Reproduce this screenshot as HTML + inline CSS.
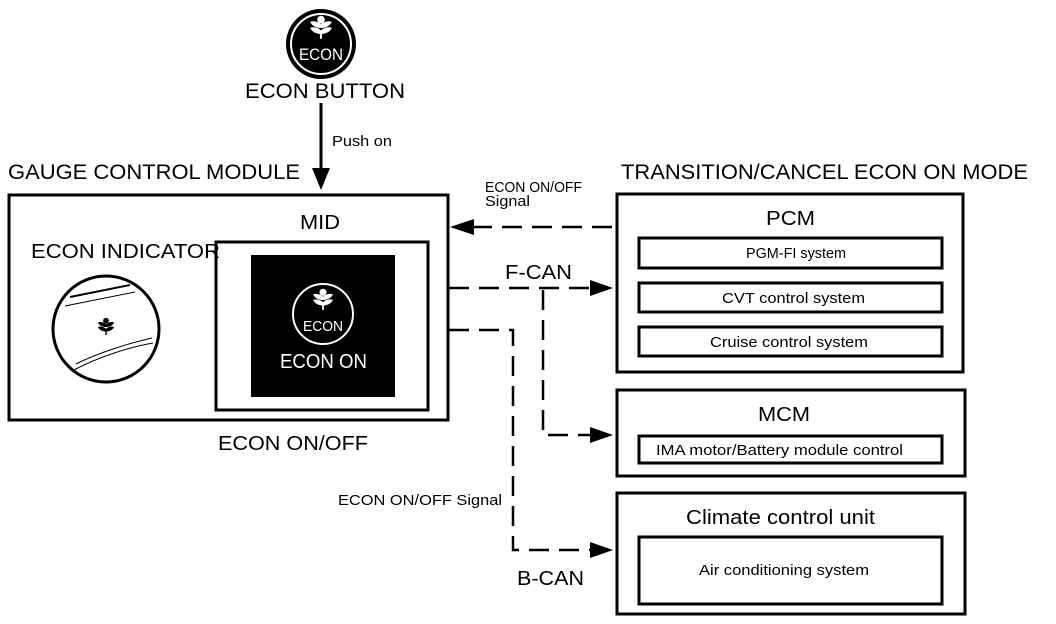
<!DOCTYPE html>
<html><head><meta charset="utf-8"><style>
html,body{margin:0;padding:0;background:#fff;}
svg{display:block;font-family:"Liberation Sans",Arial,sans-serif;}
</style></head><body>
<svg width="1056" height="624" viewBox="0 0 1056 624" xmlns="http://www.w3.org/2000/svg">
<defs>
<g id="leaf">
<circle cx="0" cy="-7" r="3.2"/>
<path d="M0,-3 C-3,-6 -8,-6 -9,-5 C-7,-1 -3,0 0,0 C3,0 7,-1 9,-5 C8,-6 3,-6 0,-3Z"/>
<path d="M0,2 C-3,-1 -8,-1 -9,0 C-7,4 -3,5 0,5 C3,5 7,4 9,0 C8,-1 3,-1 0,2Z"/>
<rect x="-0.8" y="3" width="1.6" height="6"/>
</g>
</defs>
<g lengthAdjust="spacingAndGlyphs">
<!-- ECON button -->
<circle cx="321" cy="44" r="35" fill="#000"/>
<circle cx="321" cy="44" r="30" fill="none" stroke="#fff" stroke-width="2"/>
<g fill="#fff" transform="translate(321,28) scale(1.2)"><use href="#leaf"/></g>
<text x="321" y="60" font-size="17" fill="#fff" text-anchor="middle" textLength="44" lengthAdjust="spacingAndGlyphs">ECON</text>
<text x="245" y="98" font-size="21" textLength="160" lengthAdjust="spacingAndGlyphs">ECON BUTTON</text>
<line x1="321" y1="103" x2="321" y2="172" stroke="#000" stroke-width="3"/>
<polygon points="312,168 330,168 321,190" fill="#000"/>
<text x="332" y="146" font-size="15" textLength="60" lengthAdjust="spacingAndGlyphs">Push on</text>
<text x="8" y="179" font-size="21" textLength="292" lengthAdjust="spacingAndGlyphs">GAUGE CONTROL MODULE</text>
<!-- GCM -->
<rect x="9" y="195" width="439" height="225" fill="none" stroke="#000" stroke-width="3"/>
<text x="300" y="229" font-size="20" textLength="40" lengthAdjust="spacingAndGlyphs">MID</text>
<text x="31" y="258" font-size="20" textLength="189" lengthAdjust="spacingAndGlyphs">ECON INDICATOR</text>
<rect x="216" y="242" width="212" height="168" fill="none" stroke="#000" stroke-width="3"/>
<rect x="251" y="255" width="144" height="142" fill="#000"/>
<circle cx="323" cy="314" r="30" fill="none" stroke="#fff" stroke-width="2"/>
<g fill="#fff" transform="translate(323,300) scale(1.1)"><use href="#leaf"/></g>
<text x="323" y="331" font-size="15" fill="#fff" text-anchor="middle" textLength="40" lengthAdjust="spacingAndGlyphs">ECON</text>
<text x="280" y="368" font-size="20" fill="#fff" textLength="87" lengthAdjust="spacingAndGlyphs">ECON ON</text>
<!-- indicator -->
<circle cx="106" cy="329" r="53" fill="#fff" stroke="#000" stroke-width="3"/>
<path d="M70,297 L130,285" stroke="#000" stroke-width="2"/>
<path d="M65,306 L135,292" stroke="#000" stroke-width="1"/>
<path d="M76,364 C100,352 130,343 152,338" stroke="#000" stroke-width="1" fill="none"/>
<path d="M74,370 C98,357 130,347 153,343" stroke="#000" stroke-width="1" fill="none"/>
<g fill="#000" transform="translate(106,327) scale(0.9)"><use href="#leaf"/></g>
<text x="218" y="450" font-size="20" textLength="150" lengthAdjust="spacingAndGlyphs">ECON ON/OFF</text>
<!-- right -->
<text x="621" y="179" font-size="21" textLength="407" lengthAdjust="spacingAndGlyphs">TRANSITION/CANCEL ECON ON MODE</text>
<rect x="617" y="194" width="346" height="178" fill="none" stroke="#000" stroke-width="3"/>
<text x="766" y="225" font-size="20" textLength="49" lengthAdjust="spacingAndGlyphs">PCM</text>
<rect x="639" y="238" width="303" height="30" fill="none" stroke="#000" stroke-width="3"/>
<text x="746" y="258" font-size="15" textLength="100" lengthAdjust="spacingAndGlyphs">PGM-FI system</text>
<rect x="639" y="283" width="303" height="29" fill="none" stroke="#000" stroke-width="3"/>
<text x="722" y="303" font-size="15" textLength="143" lengthAdjust="spacingAndGlyphs">CVT control system</text>
<rect x="639" y="327" width="303" height="29" fill="none" stroke="#000" stroke-width="3"/>
<text x="710" y="347" font-size="15" textLength="158" lengthAdjust="spacingAndGlyphs">Cruise control system</text>
<rect x="617" y="390" width="348" height="86" fill="none" stroke="#000" stroke-width="3"/>
<text x="758" y="421" font-size="20" textLength="52" lengthAdjust="spacingAndGlyphs">MCM</text>
<rect x="639" y="436" width="303" height="27" fill="none" stroke="#000" stroke-width="3"/>
<text x="656" y="455" font-size="15" textLength="247" lengthAdjust="spacingAndGlyphs">IMA motor/Battery module control</text>
<rect x="617" y="493" width="348" height="121" fill="none" stroke="#000" stroke-width="3"/>
<text x="686" y="524" font-size="20" textLength="189" lengthAdjust="spacingAndGlyphs">Climate control unit</text>
<rect x="639" y="537" width="303" height="67" fill="none" stroke="#000" stroke-width="3"/>
<text x="699" y="575" font-size="15" textLength="170" lengthAdjust="spacingAndGlyphs">Air conditioning system</text>
<!-- connectors -->
<g stroke="#000" stroke-width="2.5" fill="none" stroke-dasharray="20,10">
<line x1="612" y1="227" x2="472" y2="227"/>
<line x1="449" y1="288" x2="595" y2="288"/>
<polyline points="543,290 543,435 595,435"/>
<polyline points="449,330 513,330 513,550 595,550"/>
</g>
<polygon points="450,227 474,219 474,235" fill="#000"/>
<polygon points="613,288 590,280 590,296" fill="#000"/>
<polygon points="613,435 590,427 590,443" fill="#000"/>
<polygon points="613,550 590,542 590,558" fill="#000"/>
<text x="485" y="192" font-size="15" textLength="97" lengthAdjust="spacingAndGlyphs">ECON ON/OFF</text>
<text x="485" y="206" font-size="15" textLength="45" lengthAdjust="spacingAndGlyphs">Signal</text>
<text x="505" y="279" font-size="20" textLength="67" lengthAdjust="spacingAndGlyphs">F-CAN</text>
<text x="338" y="505" font-size="15" textLength="164" lengthAdjust="spacingAndGlyphs">ECON ON/OFF Signal</text>
<text x="517" y="585" font-size="20" textLength="67" lengthAdjust="spacingAndGlyphs">B-CAN</text>
</g>
</svg>
</body></html>
